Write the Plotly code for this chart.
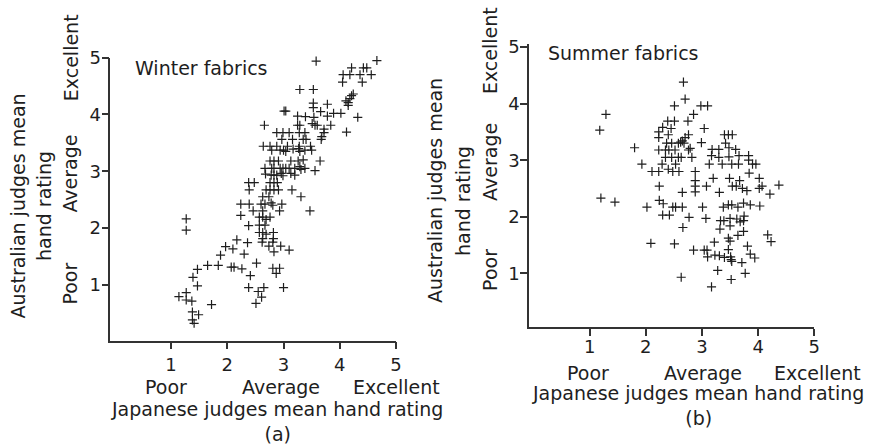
import plotly.graph_objects as go

# Winter fabrics: (Japanese rating, Australian rating) per fabric
winter_jp = [
    3.99, 3.58, 4.66, 4.21, 4.42, 4.48, 4.06, 4.18, 4.36, 4.56, 4.05, 4.40,
    4.24, 4.21, 4.18, 4.11, 4.15, 4.15, 4.02, 4.12, 4.32, 3.29, 3.53, 3.53,
    3.53, 3.78, 3.66, 3.01, 3.04, 3.25, 3.39, 3.54, 3.78, 3.89, 2.66, 3.25,
    3.29, 3.51, 3.56, 3.60, 3.84, 3.72, 3.72, 3.68, 3.67,
    2.88, 2.99, 3.10, 3.28, 3.38,
    2.97, 3.16, 3.35, 3.40,
    2.64, 2.76, 2.88, 3.07, 3.28, 3.48,
    2.79, 2.94, 3.00, 3.04, 3.17, 3.27, 3.29, 3.38, 3.50,
    2.76, 2.83, 2.91, 3.13, 3.26, 3.35, 3.65,
    2.67, 2.79, 2.83, 2.94, 2.99, 3.04, 3.10, 3.20, 3.29, 3.31, 3.38, 3.56,
    2.68, 2.78, 2.83, 2.88, 2.96, 2.99, 3.13, 3.20,
    2.38, 2.48, 2.76, 2.83, 2.89,
    2.39, 2.69, 2.76, 2.83, 2.91, 3.15,
    2.63, 2.74, 3.31,
    2.24, 2.39, 2.60, 2.67, 2.78, 2.81, 2.97,
    2.46, 2.63, 2.93, 3.47,
    2.24, 2.57, 2.63, 2.69, 2.76,
    2.38, 2.57, 2.67,
    2.57, 2.63, 2.69, 2.82,
    2.17, 2.63, 2.82, 2.81, 2.62,
    1.97, 2.10, 2.36, 2.74, 2.95, 2.83, 3.10,
    1.88, 2.30,
    1.27, 1.27,
    1.47, 1.65, 1.84, 2.07, 2.12, 2.26, 2.52,
    2.81, 2.93, 2.87,
    2.41, 1.39, 1.47,
    2.38, 2.65, 3.00,
    2.55, 2.61,
    2.51, 1.72,
    1.14, 1.27, 1.27, 1.37,
    1.38, 1.49, 1.38, 1.41,
]
winter_au = [
    5.06, 4.94, 4.95, 4.82, 4.82, 4.82, 4.70, 4.70, 4.70, 4.70, 4.57, 4.57,
    4.36, 4.33, 4.28, 4.24, 4.21, 4.16, 4.02, 3.69, 3.95, 4.44, 4.44, 4.20,
    4.12, 4.18, 4.05, 4.06, 4.06, 3.97, 3.96, 3.95, 3.97, 4.02, 3.81, 3.81,
    3.81, 3.84, 3.81, 3.81, 3.81, 3.74, 3.68, 3.61, 3.56,
    3.68, 3.68, 3.68, 3.68, 3.68,
    3.56, 3.56, 3.56, 3.56,
    3.44, 3.44, 3.44, 3.44, 3.44, 3.44,
    3.37, 3.37, 3.37, 3.35, 3.39, 3.40, 3.35, 3.37, 3.37,
    3.18, 3.18, 3.18, 3.18, 3.18, 3.20, 3.18,
    3.05, 3.05, 3.05, 3.05, 3.05, 3.05, 3.05, 3.05, 3.08, 3.03, 3.05, 3.01,
    2.95, 2.93, 2.93, 2.93, 2.96, 2.92, 2.96, 2.93,
    2.80, 2.80, 2.80, 2.80, 2.80,
    2.67, 2.67, 2.67, 2.67, 2.67, 2.67,
    2.55, 2.55, 2.55,
    2.42, 2.42, 2.42, 2.42, 2.44, 2.40, 2.42,
    2.30, 2.30, 2.30, 2.30,
    2.22, 2.19, 2.19, 2.15, 2.19,
    2.04, 2.05, 2.05,
    1.92, 1.92, 1.89, 1.92,
    1.79, 1.81, 1.81, 1.75, 1.75,
    1.67, 1.63, 1.74, 1.68, 1.68, 1.58, 1.61,
    1.52, 1.54,
    2.16, 1.96,
    1.27, 1.34, 1.34, 1.31, 1.31, 1.28, 1.38,
    1.29, 1.29, 1.20,
    1.16, 1.13, 0.98,
    0.95, 0.95, 0.95,
    0.88, 0.78,
    0.67, 0.65,
    0.79, 0.86, 0.73, 0.71,
    0.52, 0.47, 0.38, 0.32,
]

# Summer fabrics: (Japanese rating, Australian rating) per fabric
summer_jp = [
    1.18, 1.29, 1.20, 1.45, 1.80, 1.93, 2.02, 2.09, 2.67, 2.70, 2.51, 2.98,
    3.10, 2.85, 2.39, 2.51, 2.75, 2.30, 2.45, 3.04, 2.23, 2.23, 2.40, 2.76,
    2.70, 3.40, 3.47, 3.54, 2.37, 2.46, 2.58, 2.62, 2.65, 2.68, 2.99, 3.42,
    2.23, 2.35, 2.41, 2.52, 2.76, 2.79, 3.18, 3.30, 3.48, 3.60,
    2.35, 2.46, 2.58, 2.63, 2.82, 3.17, 3.30, 3.48, 3.66, 3.83, 3.83,
    2.29, 2.53, 3.13, 3.36, 3.53, 3.65, 3.90, 3.96,
    2.40, 2.48, 2.59, 2.11, 2.23, 2.88, 3.84,
    2.88, 2.88, 2.88, 2.24, 3.20, 3.49, 3.67, 3.08, 3.54, 3.61, 3.72, 3.80,
    4.02, 4.02, 4.07, 4.37, 4.21, 2.65, 3.31,
    2.24, 2.31, 2.48, 2.53, 2.65, 3.01, 3.38, 3.47, 3.53, 3.64, 3.74, 3.86,
    4.03, 2.30, 2.42, 2.77, 3.07, 3.33, 3.39, 3.50, 3.62, 3.68, 3.74, 3.75,
    2.66, 3.32, 3.50, 3.74, 3.64, 3.47, 3.50, 4.17, 4.23, 2.51, 3.22, 3.81,
    2.85, 3.04, 3.09, 3.47, 3.10, 3.23, 3.31, 3.40, 3.51, 3.52, 3.53, 3.86,
    3.94, 3.71, 3.28, 3.77, 2.63, 3.52, 3.17,
]
summer_au = [
    3.53, 3.81, 2.33, 2.26, 3.22, 2.93, 2.17, 1.53, 4.38, 4.08, 3.96, 3.96,
    3.96, 3.81, 3.69, 3.69, 3.69, 3.58, 3.56, 3.56, 3.50, 3.40, 3.45, 3.45,
    3.40, 3.45, 3.45, 3.45, 3.30, 3.30, 3.30, 3.32, 3.34, 3.30, 3.31, 3.30,
    3.18, 3.18, 3.18, 3.18, 3.18, 3.21, 3.19, 3.19, 3.22, 3.19,
    3.05, 3.05, 3.05, 3.05, 3.05, 3.08, 3.05, 3.06, 3.08, 3.08, 3.00,
    2.93, 2.93, 2.93, 2.93, 2.93, 2.93, 2.93, 2.93,
    2.84, 2.80, 2.80, 2.80, 2.80, 2.80, 2.77,
    2.64, 2.54, 2.44, 2.54, 2.68, 2.68, 2.64, 2.54, 2.54, 2.54, 2.50, 2.46,
    2.68, 2.50, 2.54, 2.56, 2.40, 2.43, 2.43,
    2.29, 2.23, 2.17, 2.17, 2.17, 2.17, 2.17, 2.21, 2.21, 2.17, 2.24, 2.21,
    2.19, 2.03, 2.03, 1.99, 1.97, 1.93, 1.93, 1.97, 1.96, 1.91, 1.93, 2.01,
    1.81, 1.78, 1.84, 1.74, 1.67, 1.62, 1.57, 1.68, 1.56, 1.52, 1.55, 1.48,
    1.41, 1.41, 1.41, 1.42, 1.29, 1.32, 1.31, 1.28, 1.29, 1.24, 1.21, 1.34,
    1.27, 1.19, 1.05, 1.00, 0.93, 0.89, 0.76,
]

tick_vals = [1, 2, 3, 4, 5]
rating_words = ["Poor", "Average", "Excellent"]

FONT = "DejaVu Sans"
INK = "#1e1e1e"
W, H = 875, 447


def px_x(px):
    return px / W


def px_y(py):
    return (H - py) / H


marker = dict(symbol="cross-thin", size=6.5, color=INK,
              line=dict(color=INK, width=1.2))

fig = go.Figure()
fig.add_trace(go.Scatter(x=winter_jp, y=winter_au, mode="markers",
                         marker=marker, xaxis="x", yaxis="y",
                         cliponaxis=False, showlegend=False,
                         hoverinfo="x+y"))
fig.add_trace(go.Scatter(x=summer_jp, y=summer_au, mode="markers",
                         marker=marker, xaxis="x2", yaxis="y2",
                         cliponaxis=False, showlegend=False,
                         hoverinfo="x+y"))

axis_style = dict(
    showline=True, linecolor="#333333", linewidth=1.5,
    ticks="outside", ticklen=7, tickwidth=1.5, tickcolor="#333333",
    showgrid=False, zeroline=False, tickvals=tick_vals,
    tickfont=dict(family=FONT, size=18, color=INK),
    automargin=False, fixedrange=True,
)

fig.update_layout(
    template="none",
    width=W, height=H,
    margin=dict(l=0, r=0, t=0, b=0, pad=0, autoexpand=False),
    paper_bgcolor="white", plot_bgcolor="white",
    font=dict(family=FONT, size=19, color=INK),
    xaxis=dict(domain=[px_x(110.3), px_x(396)], range=[-0.08, 5.0],
               anchor="y", ticklabelstandoff=0, **axis_style),
    yaxis=dict(domain=[px_y(340.7), px_y(57.7)], range=[0.013, 5.0],
               anchor="x", ticklabelstandoff=-3, **axis_style),
    xaxis2=dict(domain=[px_x(529), px_x(814.3)], range=[-0.08, 5.0],
                anchor="y2", ticklabelstandoff=-4, **axis_style),
    yaxis2=dict(domain=[px_y(327), px_y(43.7)], range=[0.05, 5.06],
                anchor="x2", ticklabelstandoff=-3, **axis_style),
)

ann = []


def text(t, x, y, xref="paper", yref="paper", angle=0, xanchor="center",
         yanchor="middle"):
    ann.append(dict(text=t, x=x, y=y, xref=xref, yref=yref, textangle=angle,
                    xanchor=xanchor, yanchor=yanchor, showarrow=False,
                    font=dict(family=FONT, size=19, color=INK)))


# panel captions
text("Winter fabrics", px_x(133), px_y(67.7), xanchor="left")
text("Summer fabrics", px_x(546), px_y(53.3), xanchor="left")

# y-axis titles (two rotated lines each)
text("Australian judges mean", px_x(17.5), px_y(206), angle=-90)
text("hand rating", px_x(44), px_y(206), angle=-90)
text("Australian judges mean", px_x(435), px_y(191), angle=-90)
text("hand rating", px_x(463), px_y(201), angle=-90)

# rating words along the y axes
for word, yv in zip(rating_words, [1.01, 2.95, 5.0]):
    text(word, px_x(70.5), yv, yref="y", angle=-90)
for word, yv in zip(rating_words, [1.06, 2.97, 4.93]):
    text(word, px_x(490), yv, yref="y2", angle=-90)

# rating words along the x axes
for word, xpx in zip(rating_words, [166.3, 281, 396.3]):
    text(word, px_x(xpx), px_y(387))
for word, xpx in zip(rating_words, [588, 702.8, 817.5]):
    text(word, px_x(xpx), px_y(373))

# x-axis titles with panel letters beneath
text("Japanese judges mean hand rating<br>(a)", px_x(276.5), px_y(421.9))
text("Japanese judges mean hand rating<br>(b)", px_x(697.5), px_y(405.9))

fig.update_layout(annotations=ann)
fig.write_html("out.html")
